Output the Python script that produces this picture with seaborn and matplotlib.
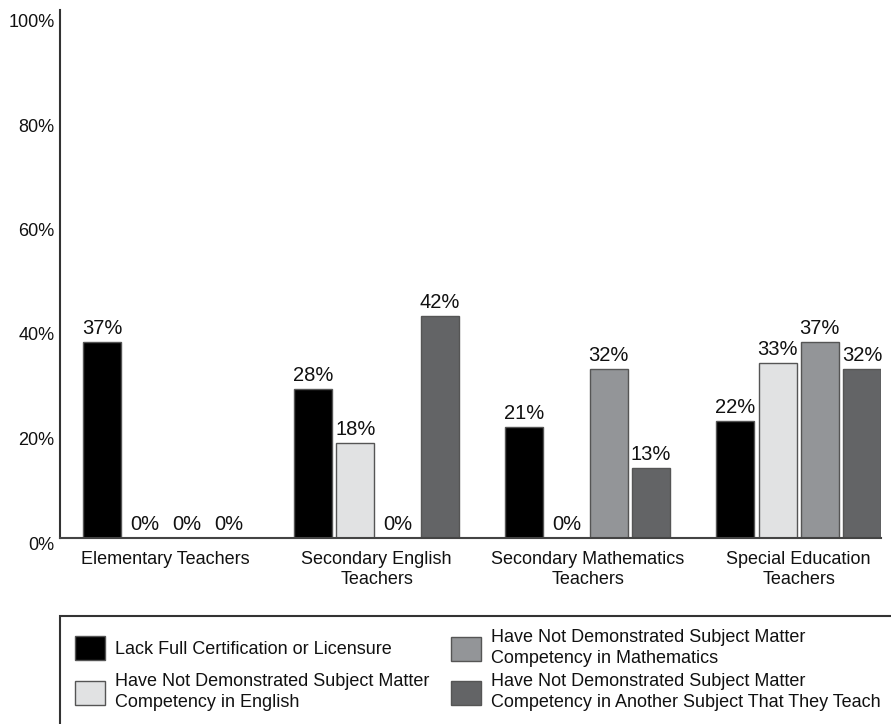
import matplotlib
matplotlib.use('Agg')
import matplotlib.pyplot as plt
import matplotlib.transforms as mtransforms
from matplotlib.patches import Patch, Rectangle
import seaborn as sns
import pandas as pd

categories = ["Elementary Teachers", "Secondary English\nTeachers",
              "Secondary Mathematics\nTeachers", "Special Education\nTeachers"]
series = ["Lack Full Certification or Licensure",
          "Have Not Demonstrated Subject Matter\nCompetency in English",
          "Have Not Demonstrated Subject Matter\nCompetency in Mathematics",
          "Have Not Demonstrated Subject Matter\nCompetency in Another Subject That They Teach"]
lack_cert = [37.5, 28.5, 21.2, 22.3]
no_english = [0, 18.2, 0, 33.4]
no_math = [0, 0, 32.3, 37.5]
no_other = [0, 42.5, 13.4, 32.3]
colors = ["#000000", "#e1e2e3", "#939598", "#636466"]
yticks = [0, 20, 40, 60, 80, 100]

all_vals = [lack_cert, no_english, no_math, no_other]
rows = []
for s, vals in zip(series, all_vals):
    for c, v in zip(categories, vals):
        rows.append({"category": c, "series": s, "value": v})
df = pd.DataFrame(rows)

sns.set_style("white")
plt.rcParams['font.family'] = ['Liberation Sans', 'DejaVu Sans']

W, H = 891, 724
fig = plt.figure(figsize=(W / 100, H / 100), dpi=100)
ax = fig.add_axes([60 / W, (H - 538) / H, (881 - 60) / W, (538 - 10) / H])

sns.barplot(data=df, x="category", y="value", hue="series", order=categories,
            hue_order=series, palette=colors, width=0.8, gap=0.1, saturation=1,
            edgecolor="#555555", linewidth=1, legend=False, ax=ax)

for cont, vals in zip(ax.containers, all_vals):
    ax.bar_label(cont, labels=[f"{int(v)}%" for v in vals], padding=3,
                 fontsize=14.5, color="#111111")

ax.set_xlim(-0.5, 3.39)
ax.set_ylim(0, (538 - 10) / 5.225)
ax.set_yticks(yticks)
ax.set_yticklabels([f"{t}%" for t in yticks], fontsize=13, color="#111111")
ax.tick_params(axis="x", length=0, pad=9, labelsize=13, colors="#111111")
ax.tick_params(axis="y", length=0, pad=4)
ax.set_xlabel("")
ax.set_ylabel("")
for lab in ax.get_xticklabels():
    lab.set_linespacing(1.3)
for sp in ["top", "right"]:
    ax.spines[sp].set_visible(False)
ax.spines["left"].set_color("#333333")
ax.spines["left"].set_linewidth(1.5)
ax.spines["bottom"].set_color("#444444")
ax.spines["bottom"].set_linewidth(1.5)

offset = mtransforms.ScaledTranslation(0, -5 / 100, fig.dpi_scale_trans)
for lab in ax.get_yticklabels():
    lab.set_transform(lab.get_transform() + offset)

# legend (one entry per slot to keep rows aligned)
slots = [(75, 648), (75, 692), (451, 648), (451, 692)]
for s, col, (px, py) in zip(series, colors, slots):
    h = Patch(facecolor=col, edgecolor="#555555", linewidth=1)
    leg = fig.legend(handles=[h], labels=[s], loc="center left",
                     bbox_to_anchor=(px / W, 1 - py / H), frameon=False,
                     fontsize=13, handlelength=1.67, handleheight=1.67,
                     handletextpad=0.55, borderpad=0, borderaxespad=0,
                     labelcolor="#111111")
    for t in leg.get_texts():
        t.set_linespacing(1.3)

fig.add_artist(Rectangle((60 / W, -0.1), 1.0, (H - 616) / H + 0.1,
                         transform=fig.transFigure, fill=False,
                         edgecolor="#333333", linewidth=1.5, clip_on=False))

fig.savefig("out.png", dpi=100)
